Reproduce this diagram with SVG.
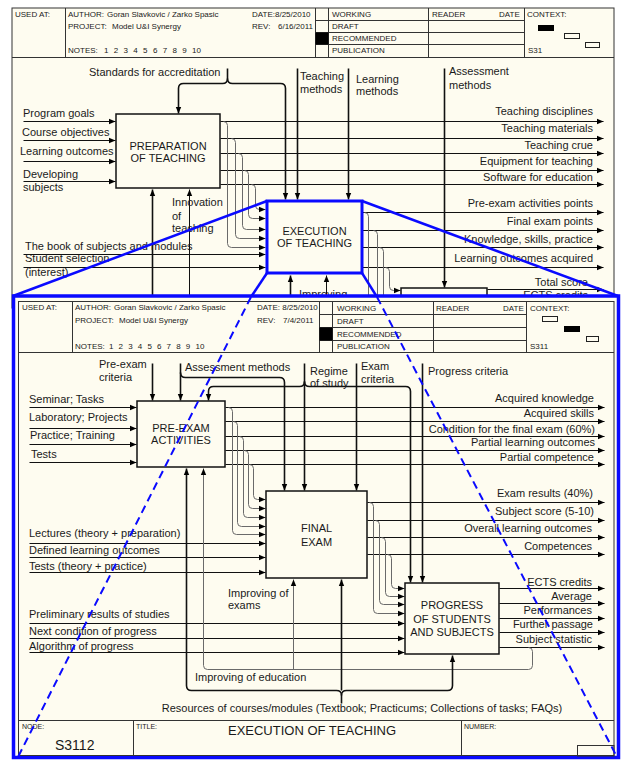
<svg xmlns="http://www.w3.org/2000/svg" width="622" height="760" viewBox="0 0 622 760">
<defs>
<marker id="ar" markerUnits="userSpaceOnUse" markerWidth="8" markerHeight="8" viewBox="0 0 8 8" refX="6.5" refY="4" orient="auto"><path d="M0,1.3 L6.5,4 L0,6.7 z" fill="#000"/></marker>
<style>
.t{font-family:"Liberation Sans",Arial,sans-serif;font-size:11px;fill:#1a1a1a}
.e{text-anchor:end}
.m{text-anchor:middle}
.h{font-family:"Liberation Sans",Arial,sans-serif;font-size:8px;fill:#1a1a1a}
.s{font-family:"Liberation Sans",Arial,sans-serif;font-size:7px;fill:#1a1a1a}
.ln{stroke:#111;stroke-width:1;fill:none}
.c{stroke:#111;stroke-width:1.6;fill:none}
.g{stroke:#6a6a6a;stroke-width:1;fill:none}
.a{marker-end:url(#ar)}
.box{fill:#fefcf0;stroke:#111;stroke-width:1.5}
.fr{stroke:#333;stroke-width:1;fill:none}
.bl{stroke:#0a0aff;fill:none}
</style>
</defs>
<rect width="622" height="760" fill="#fff"/>

<!-- UPPER FRAME -->
<g id="upper-frame">
<rect x="12" y="8" width="602" height="300" fill="#fefcf0" stroke="#333" stroke-width="1"/>
<g class="fr">
<path d="M12,57.5 H614"/>
<path d="M65.5,8 V57 M315.5,8 V57 M328.5,8 V57 M428.5,8 V57 M524.5,8 V57"/>
<path d="M315,20.5 H524 M315,32.5 H524 M315,44.5 H524"/>
</g>
<rect x="315.5" y="32.5" width="13" height="12" fill="#000"/>
<rect x="538.5" y="25.5" width="15" height="5" fill="#000" stroke="#000"/>
<rect x="564.5" y="33.5" width="15" height="5" fill="none" stroke="#222"/>
<rect x="585.5" y="42.5" width="14" height="5" fill="none" stroke="#222"/>
<text class="h" x="15" y="17">USED AT:</text>
<text class="h" x="68" y="17">AUTHOR:</text><text class="h" x="107" y="17">Goran Slavkovic / Zarko Spasic</text>
<text class="h" x="252" y="17">DATE:8/25/2010</text>
<text class="h" x="68" y="29">PROJECT:</text><text class="h" x="112" y="29">Model U&amp;I Synergy</text>
<text class="h" x="252" y="29">REV:</text><text class="h" x="278" y="29">6/16/2011</text>
<text class="h" x="68" y="53">NOTES:</text>
<text class="h" x="104 113.8 123.6 133.3 143.1 152.9 162.7 172.4 182.2 192 196.5" y="53">12345678910</text>
<text class="h" x="332" y="17">WORKING</text>
<text class="h" x="332" y="29">DRAFT</text>
<text class="h" x="332" y="41">RECOMMENDED</text>
<text class="h" x="332" y="53">PUBLICATION</text>
<text class="h" x="432" y="17">READER</text>
<text class="h" x="499" y="17">DATE</text>
<text class="h" x="527" y="17">CONTEXT:</text>
<text class="h" x="528" y="53">S31</text>
</g>

<!-- UPPER CONNECTORS -->
<g id="upper-connectors" transform="translate(0.5 0.5)">
<g class="ln a">
<path d="M23,121 H115"/><path d="M23,140 H115"/><path d="M23,161 H115"/><path d="M23,181 H115"/>
<path d="M220,121 H603"/><path d="M220,138 H603"/><path d="M220,153 H603"/><path d="M220,170 H603"/><path d="M220,184 H603"/>
<path d="M23,254 H265"/><path d="M23,267 H265"/>
<path d="M362,212 H603"/><path d="M362,230 H603"/><path d="M362,247 H603"/><path d="M362,267 H603"/>
<path d="M487,289 H603"/><path d="M487,302 H603"/>
<path d="M189,300 V189"/><path d="M326,300 V275"/>
</g>
<g class="g">
<path class="a" d="M223,121 Q227,121 227,125 V243 Q227,247 231,247 H265"/>
<path class="a" d="M231,138 Q235,138 235,142 V234 Q235,238 239,238 H265"/>
<path class="a" d="M238,153 Q242,153 242,157 V225 Q242,229 246,229 H265"/>
<path class="a" d="M244,170 Q248,170 248,174 V214 Q248,218 252,218 H265"/>
<path class="a" d="M251,184 Q255,184 255,188 V205 Q255,209 259,209 H265"/>
<path d="M364,212 Q368,212 368,216 V305"/>
<path d="M373,230 Q377,230 377,234 V305"/>
<path d="M379,247 Q383,247 383,251 V305"/>
<path class="a" d="M385,267 Q389,267 389,271 V286 Q389,290 393,290 H400"/>
</g>
<g class="c a">
<path d="M227,68 V78 Q227,83 222,83 H183 Q178,83 178,88 V113"/>
<path d="M227,78 Q227,83 232,83 H280 Q285,83 285,88 V199"/>
<path d="M297,68 V199"/>
<path d="M348,68 V199"/>
<path d="M444,68 V287"/>
<path d="M152,300 V189"/>
<path d="M290,300 V275"/>
</g>
</g>

<g id="upper-prep">
<rect class="box" x="116" y="114" width="104" height="74"/>
<text class="t m" x="168" y="150">PREPARATION</text>
<text class="t m" x="168" y="162">OF TEACHING</text>
</g>
<g id="upper-exec">
<rect x="267" y="201" width="95" height="72" fill="#fefcf0" stroke="#0a0aff" stroke-width="3"/>
<text class="t m" x="314.5" y="235">EXECUTION</text>
<text class="t m" x="314.5" y="247">OF TEACHING</text>
</g>
<g id="upper-next">
<rect class="box" x="401" y="288" width="86" height="40"/>
</g>

<g id="upper-labels">
<text class="t" x="89" y="76">Standards for accreditation</text>
<text class="t" x="300" y="80">Teaching</text><text class="t" x="300" y="93">methods</text>
<text class="t" x="356" y="83">Learning</text><text class="t" x="356" y="95">methods</text>
<text class="t" x="449" y="75">Assessment</text><text class="t" x="449" y="89">methods</text>
<text class="t" x="23" y="117">Program goals</text>
<text class="t" x="22" y="136">Course objectives</text>
<text class="t" x="20" y="155">Learning outcomes</text>
<text class="t" x="23" y="178">Developing</text><text class="t" x="23" y="191">subjects</text>
<text class="t" x="172" y="206">Innovation</text><text class="t" x="172" y="220">of</text><text class="t" x="172" y="232">teaching</text>
<text class="t" x="25" y="250">The book of subjects and modules</text>
<text class="t" x="25" y="262">Student selection</text><text class="t" x="25" y="276">(interest)</text>
<text class="t e" x="593" y="115">Teaching disciplines</text>
<text class="t e" x="593" y="132">Teaching materials</text>
<text class="t e" x="593" y="149">Teaching crue</text>
<text class="t e" x="593" y="165">Equipment for teaching</text>
<text class="t e" x="593" y="181">Software for education</text>
<text class="t e" x="593" y="207">Pre-exam activities points</text>
<text class="t e" x="593" y="225">Final exam points</text>
<text class="t e" x="593" y="243">Knowledge, skills, practice</text>
<text class="t e" x="593" y="262">Learning outcomes acquired</text>
<text class="t e" x="588" y="286">Total score</text>
<text class="t e" x="588" y="299">ECTS credits</text>
<text class="t" x="299" y="298">Improving</text>
</g>

<g id="zoom-lines" class="bl" stroke-width="2.5">
<path d="M267,201 L13,296"/>
<path d="M362,201 L618,296"/>
<path d="M267,273 L251,297"/>
<path d="M362,273 L377,297"/>
</g>

<!-- LOWER FRAME -->
<g id="lower-frame">
<rect x="13.5" y="296" width="605" height="461.5" fill="#fefcf0" stroke="#0a0aff" stroke-width="3.5"/>
<rect x="18.5" y="301.5" width="595.5" height="454" fill="none" stroke="#333" stroke-width="1"/>
<g class="fr">
<path d="M18,352.5 H614"/>
<path d="M72.5,301 V352 M319.5,301 V352 M332.5,301 V352 M433.5,301 V352 M526.5,301 V352"/>
<path d="M319,314.5 H526 M319,327.5 H526 M319,340.5 H526"/>
<path d="M18,720.5 H614 M133.5,720 V756 M461.5,720 V756"/>
</g>
<rect x="319.5" y="327.5" width="13" height="13" fill="#000"/>
<rect x="542.5" y="316.5" width="15" height="5" fill="none" stroke="#222"/>
<rect x="564.5" y="326.5" width="15" height="5" fill="#000" stroke="#000"/>
<rect x="586.5" y="336.5" width="12" height="5" fill="none" stroke="#222"/>
<rect x="577.5" y="745.5" width="36.5" height="10.5" fill="none" stroke="#333"/>
<text class="h" x="22" y="310">USED AT:</text>
<text class="h" x="75" y="310">AUTHOR:</text><text class="h" x="114" y="310">Goran Slavkovic / Zarko Spasic</text>
<text class="h" x="257" y="310">DATE: 8/25/2010</text>
<text class="h" x="75" y="323">PROJECT:</text><text class="h" x="119" y="323">Model U&amp;I Synergy</text>
<text class="h" x="257" y="323">REV:</text><text class="h" x="283" y="323">7/4/2011</text>
<text class="h" x="75" y="349">NOTES:</text>
<text class="h" x="109 118.6 128.2 137.8 147.4 157 166.6 176.2 185.8 195.4 199.9" y="349">12345678910</text>
<text class="h" x="337" y="311">WORKING</text>
<text class="h" x="337" y="324">DRAFT</text>
<text class="h" x="337" y="337">RECOMMENDED</text>
<text class="h" x="337" y="349">PUBLICATION</text>
<text class="h" x="436" y="311">READER</text>
<text class="h" x="503" y="311">DATE</text>
<text class="h" x="530" y="311">CONTEXT:</text>
<text class="h" x="530" y="349">S311</text>
<text class="s" x="22" y="729">NODE:</text>
<text class="s" x="136" y="729">TITLE:</text>
<text class="s" x="464" y="729">NUMBER:</text>
<text x="55" y="750" style="font-family:'Liberation Sans',Arial,sans-serif;font-size:14px;fill:#1a1a1a">S3112</text>
<text x="312" y="735" text-anchor="middle" style="font-family:'Liberation Sans',Arial,sans-serif;font-size:13px;fill:#1a1a1a">EXECUTION OF TEACHING</text>
</g>

<!-- LOWER CONNECTORS -->
<g id="lower-connectors" transform="translate(0.5 0.5)">
<g class="ln a">
<path d="M29,407 H136"/><path d="M29,428 H136"/><path d="M29,444 H136"/><path d="M29,462 H136"/>
<path d="M225,407 H604"/><path d="M225,421 H604"/><path d="M225,436 H604"/><path d="M225,450 H604"/><path d="M225,464 H604"/>
<path d="M29,543 H265"/><path d="M29,557 H265"/><path d="M29,572 H265"/>
<path d="M367,502 H604"/><path d="M367,520 H604"/><path d="M367,537 H604"/><path d="M367,554 H604"/>
<path d="M29,623 H404"/><path d="M29,638 H404"/><path d="M29,652 H404"/>
<path d="M499,588 H604"/><path d="M499,603 H604"/><path d="M499,618 H604"/><path d="M499,632 H604"/><path d="M499,647 H604"/>
</g>
<g class="g a">
<path d="M228,407 Q232,407 232,411 V530 Q232,534 236,534 H265"/>
<path d="M233,421 Q237,421 237,425 V522 Q237,526 241,526 H265"/>
<path d="M239,436 Q243,436 243,440 V513 Q243,517 247,517 H265"/>
<path d="M244,450 Q248,450 248,454 V504 Q248,508 252,508 H265"/>
<path d="M249,464 Q253,464 253,468 V495 Q253,499 257,499 H265"/>
<path d="M369,502 Q373,502 373,506 V609 Q373,613 377,613 H404"/>
<path d="M375,520 Q379,520 379,524 V600 Q379,604 383,604 H404"/>
<path d="M381,537 Q385,537 385,541 V592 Q385,596 389,596 H404"/>
<path d="M387,554 Q391,554 391,558 V584 Q391,588 395,588 H404"/>
<path d="M528,647 Q532,647 532,651 V665 Q532,669 528,669 H207 Q203,669 203,665 V468"/>
<path d="M293,669 V579"/>
</g>
<g class="c a">
<path d="M152,363 V400"/>
<path d="M180,363 V400"/>
<path d="M180,372 Q180,377 185,377 H279 Q284,377 284,382 V490"/>
<path d="M304,363 V490"/>
<path d="M304,381 Q304,386 299,386 H213 Q208,386 208,391 V400"/>
<path d="M304,381 Q304,386 309,386 H405 Q410,386 410,391 V582"/>
<path d="M356,363 V490"/>
<path d="M422,363 V582"/>
<path d="M341,703 V695 Q341,690 336,690 H191 Q186,690 186,685 V468"/>
<path d="M341,695 Q341,690 346,690 H447 Q452,690 452,685 V655"/>
<path d="M341,690 V579"/>
</g>
</g>

<g id="lower-preexam">
<rect class="box" x="137" y="401" width="88" height="66"/>
<text class="t m" x="181" y="432">PRE-EXAM</text>
<text class="t m" x="181" y="444">ACTIVITIES</text>
</g>
<g id="lower-final">
<rect class="box" x="266" y="491" width="101" height="87"/>
<text class="t m" x="316.5" y="532">FINAL</text>
<text class="t m" x="316.5" y="546">EXAM</text>
</g>
<g id="lower-progress">
<rect class="box" x="405" y="583" width="94" height="71"/>
<text class="t m" x="452" y="609">PROGRESS</text>
<text class="t m" x="452" y="623">OF STUDENTS</text>
<text class="t m" x="452" y="636">AND SUBJECTS</text>
</g>

<g id="lower-labels">
<text class="t" x="99" y="368">Pre-exam</text><text class="t" x="99" y="381">criteria</text>
<text class="t" x="185" y="371">Assessment methods</text>
<text class="t" x="310" y="375">Regime</text><text class="t" x="310" y="387">of study</text>
<text class="t" x="361" y="370">Exam</text><text class="t" x="361" y="383">criteria</text>
<text class="t" x="428" y="375">Progress criteria</text>
<text class="t" x="29" y="403">Seminar; Tasks</text>
<text class="t" x="29" y="421">Laboratory; Projects</text>
<text class="t" x="30" y="439">Practice; Training</text>
<text class="t" x="31" y="458">Tests</text>
<text class="t e" x="594" y="402">Acquired knowledge</text>
<text class="t e" x="594" y="417">Acquired skills</text>
<text class="t e" x="595" y="433">Condition for the final exam (60%)</text>
<text class="t e" x="595" y="446">Partial learning outcomes</text>
<text class="t e" x="594" y="461">Partial competence</text>
<text class="t e" x="593" y="497">Exam results (40%)</text>
<text class="t e" x="594" y="515">Subject score (5-10)</text>
<text class="t e" x="592" y="532">Overall learning outcomes</text>
<text class="t e" x="592" y="550">Competences</text>
<text class="t e" x="592" y="586">ECTS credits</text>
<text class="t e" x="592" y="600">Average</text>
<text class="t e" x="592" y="614">Performances</text>
<text class="t e" x="593" y="628">Further passage</text>
<text class="t e" x="592" y="643">Subject statistic</text>
<text class="t" x="29" y="537">Lectures (theory + preparation)</text>
<text class="t" x="29" y="554">Defined learning outcomes</text>
<text class="t" x="29" y="570">Tests (theory + practice)</text>
<text class="t" x="29" y="618">Preliminary results of studies</text>
<text class="t" x="29" y="635">Next condition of progress</text>
<text class="t" x="29" y="650">Algorithm of progress</text>
<text class="t" x="228" y="597">Improving of</text><text class="t" x="228" y="609">exams</text>
<text class="t" x="195" y="681">Improving of education</text>
<text class="t m" x="362" y="712">Resources of courses/modules (Textbook; Practicums; Collections of tasks; FAQs)</text>
</g>

<g id="zoom-dashes" class="bl" stroke-width="2" stroke-dasharray="8 5">
<path d="M251,297 L18,757"/>
<path d="M377,297 L617,757"/>
</g>
</svg>
